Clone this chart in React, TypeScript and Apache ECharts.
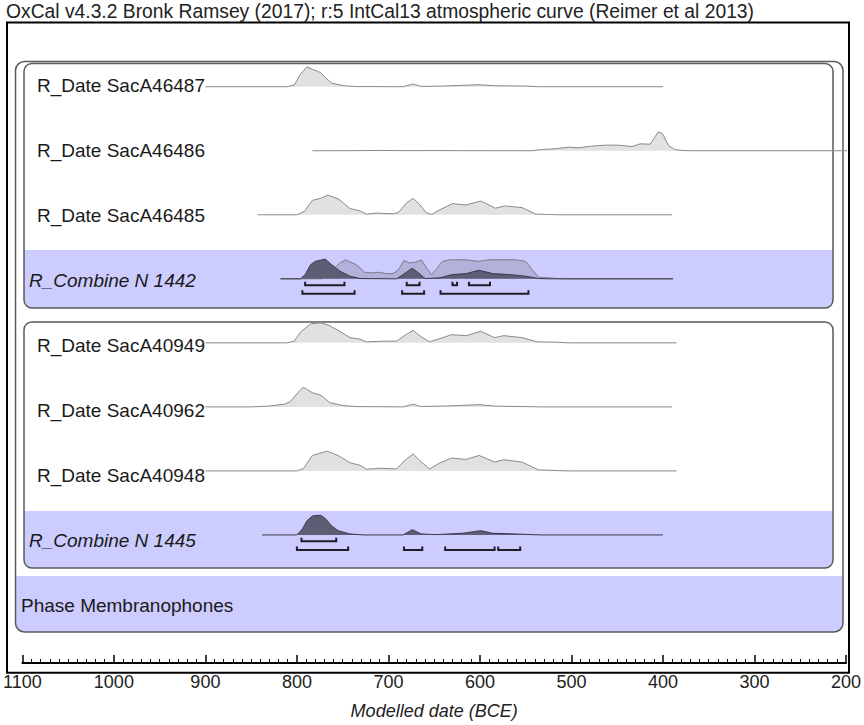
import React, { useEffect, useRef } from 'react';
import * as echarts from 'echarts';

// ---------- data ----------
const titleText = 'OxCal v4.3.2 Bronk Ramsey (2017); r:5 IntCal13 atmospheric curve (Reimer et al 2013)';
const axisTitle = 'Modelled date (BCE)';
const tickInterval = 100;
const dateMin = 200;
const dateMax = 1100;

const rowLabels = [
  'R_Date SacA46487',
  'R_Date SacA46486',
  'R_Date SacA46485',
  'R_Combine N 1442',
  'R_Date SacA40949',
  'R_Date SacA40962',
  'R_Date SacA40948',
  'R_Combine N 1445',
  'Phase Membranophones',
];
const rowKinds = ['date', 'date', 'date', 'combine', 'date', 'date', 'date', 'combine', 'phase'];

// relative probability densities (arbitrary units) against calendar year BCE
const sacA46487Years = [900, 811, 803, 796, 789, 783, 774, 769, 762, 749, 735, 684, 673, 664, 640, 601, 583, 550, 535, 400];
const sacA46487Prob = [0, 0, 1.7, 12.7, 20.3, 17.7, 14.3, 9.3, 3.7, 1, 0.2, 0, 2.7, 0.3, 0.7, 2, 1, 0.7, 0, 0];

const sacA46486Years = [783, 740, 710, 680, 650, 620, 543, 532, 518, 503, 492, 478, 463, 449, 434, 425, 414, 405, 400, 394, 387, 380, 369, 180];
const sacA46486Prob = [0, 0.1, 0.3, 0.1, 0.2, 0.1, 0, 1.3, 2, 3.7, 3, 4.7, 5.7, 5.7, 4.3, 7, 6.7, 19.3, 16.7, 5.3, 1.3, 0.3, 0, 0];

const sacA46485Years = [843, 800, 792, 783, 774, 766, 754, 742, 731, 724, 713, 695, 689, 680, 673, 666, 659, 653, 644, 630, 615, 599, 583, 573, 554, 539, 525, 514, 390];
const sacA46485Prob = [0, 0, 3.3, 14.7, 16.7, 20, 15.7, 6.3, 4, 0.7, 1.7, 1, 2.3, 12.3, 16.7, 10.7, 2.3, 0.3, 5, 11.3, 10, 14, 6.7, 9, 7.3, 0.7, 0.3, 0, 0];

const n1442LightYears = [818, 778, 773, 767, 760, 753, 747, 735, 726, 717, 711, 702, 695, 689, 683, 677, 671, 664, 659, 653, 648, 641, 633, 615, 601, 590, 561, 550, 543, 536, 525, 514, 507, 389];
const n1442LightProb = [0, 0, 0, 3, 10, 16, 19.3, 14.3, 6.7, 6, 6.7, 5.3, 5.3, 9.3, 18.7, 16, 16.7, 19.3, 12, 4.3, 9.3, 17.7, 19.3, 19.3, 17.7, 19.3, 19.3, 17.7, 9.3, 1.7, 1, 0.3, 0, 0];
const n1442Years = [818, 796, 791, 785, 780, 769, 762, 753, 742, 731, 691, 684, 674, 668, 660, 644, 630, 615, 601, 586, 568, 550, 536, 525, 389];
const n1442Prob = [0, 0, 4.3, 14.3, 17.7, 20, 14.3, 7.7, 2.7, 0.3, 0, 4.3, 10.7, 6.7, 0.3, 1, 4.3, 5.3, 8.7, 5.3, 4.3, 2.7, 0.3, 0, 0];

const sacA40949Years = [900, 811, 803, 796, 785, 774, 765, 755, 742, 731, 724, 706, 691, 682, 673, 664, 655, 644, 631, 615, 599, 584, 574, 554, 537, 518, 503, 385];
const sacA40949Prob = [0, 0, 1.7, 11, 19.3, 20.3, 17.7, 12.7, 5.3, 3.7, 1, 1.7, 1.7, 7.7, 12.7, 6, 1, 4.3, 8.3, 7.3, 11.7, 5.3, 7.3, 5.3, 1, 0.7, 0, 0];

const sacA40962Years = [900, 850, 832, 814, 807, 800, 793, 783, 774, 764, 749, 735, 684, 673, 664, 633, 601, 583, 550, 535, 390];
const sacA40962Prob = [0, 0, 0.7, 2.7, 5.3, 13.3, 20, 14.3, 12, 4.3, 1.3, 0.3, 0, 2.7, 0.3, 1, 2.3, 0.7, 0.3, 0, 0];

const sacA40948Years = [900, 800, 793, 783, 767, 755, 742, 731, 724, 709, 691, 682, 673, 666, 655, 644, 631, 615, 601, 584, 574, 554, 536, 514, 503, 385];
const sacA40948Prob = [0, 0, 2.3, 15.7, 20, 15.7, 8.3, 5.7, 1.7, 2.7, 2, 10.7, 17.3, 10.7, 2, 8, 13, 11.7, 15.7, 9, 11.3, 9, 1, 0.3, 0, 0];

const n1445Years = [838, 800, 794, 789, 783, 774, 769, 762, 755, 742, 727, 684, 674, 664, 648, 619, 599, 586, 561, 543, 532, 400];
const n1445Prob = [0, 0, 6, 14.3, 19.3, 20, 16.7, 9.3, 4.3, 1, 0, 0, 5.3, 1, 0.3, 1.7, 4.3, 1.7, 1, 0.3, 0, 0];

// highest posterior density ranges [from, to] (BCE)
const n1442Range68 = [[791, 748], [680, 666], [630, 625], [612, 589]];
const n1442Range95 = [[794, 737], [685, 661], [643, 547]];
const n1445Range68 = [[795, 757]];
const n1445Range95 = [[800, 744], [683, 663], [638, 584], [580, 556]];

// ---------- layout / style ----------
const W = 864;
const H = 725;
const Y_MIN = -1;
const Y_MAX = 9;
const GRID_TOP = 22.7;
const GRID_BOTTOM_PX = 672.7;
const ROW_PX = (GRID_BOTTOM_PX - GRID_TOP) / (Y_MAX - Y_MIN);
const DENSITY_TO_ROW = 1 / ROW_PX; // one density unit = one pixel of height
const RANGE_OFFSET_68 = 0.1;
const RANGE_OFFSET_95 = 0.235;
const FONT = '"Liberation Sans", Arial, Helvetica, sans-serif';
const BAND = '#ccccff';

type Dist = { row: number; years: number[]; prob: number[]; kind: 'date' | 'light' | 'dark'; clip?: boolean };
const distributions: Dist[] = [
  { row: 0, years: sacA46487Years, prob: sacA46487Prob, kind: 'date' },
  { row: 1, years: sacA46486Years, prob: sacA46486Prob, kind: 'date', clip: false },
  { row: 2, years: sacA46485Years, prob: sacA46485Prob, kind: 'date' },
  { row: 3, years: n1442LightYears, prob: n1442LightProb, kind: 'light' },
  { row: 3, years: n1442Years, prob: n1442Prob, kind: 'dark' },
  { row: 4, years: sacA40949Years, prob: sacA40949Prob, kind: 'date' },
  { row: 5, years: sacA40962Years, prob: sacA40962Prob, kind: 'date' },
  { row: 6, years: sacA40948Years, prob: sacA40948Prob, kind: 'date' },
  { row: 7, years: n1445Years, prob: n1445Prob, kind: 'dark' },
];

const rangeData: number[][] = [];
const addRanges = (ranges: number[][], row: number, off: number) =>
  ranges.forEach(([a, b]) => rangeData.push([a, b, row + off]));
addRanges(n1442Range68, 3, RANGE_OFFSET_68);
addRanges(n1442Range95, 3, RANGE_OFFSET_95);
addRanges(n1445Range68, 7, RANGE_OFFSET_68);
addRanges(n1445Range95, 7, RANGE_OFFSET_95);

const styleFor = (kind: string) => {
  if (kind === 'dark') return { line: '#3a3a48', fill: '#5d5d76' };
  if (kind === 'light') return { line: '#7a7a8a', fill: 'rgba(120,120,140,0.33)' };
  return { line: '#8a8a8a', fill: '#e1e1e1' };
};

const rowY = (r: number) => GRID_TOP + (r - Y_MIN) * ROW_PX;

function buildOption() {
  const series: any[] = distributions.map((d, i) => {
    const st = styleFor(d.kind);
    return {
      type: 'line',
      name: 'dist' + i,
      data: d.years.map((y, k) => [y, d.row - d.prob[k] * DENSITY_TO_ROW]),
      symbol: 'none',
      silent: true,
      clip: d.clip !== false,
      z: d.kind === 'dark' ? 4 : 3,
      lineStyle: { color: st.line, width: 1 },
      areaStyle: { color: st.fill, opacity: 1, origin: d.row },
    };
  });

  series.push({
    type: 'custom',
    name: 'ranges',
    silent: true,
    z: 5,
    data: rangeData,
    encode: { x: [0, 1], y: 2 },
    renderItem: (params: any, api: any) => {
      const s = api.coord([api.value(0), api.value(2)]);
      const e = api.coord([api.value(1), api.value(2)]);
      return {
        type: 'polyline',
        shape: { points: [[s[0], s[1] - 3.5], s, e, [e[0], e[1] - 3.5]] },
        style: { stroke: '#1e1e26', lineWidth: 2, fill: null },
      };
    },
  });

  const graphics: any[] = [];
  // outer frame
  graphics.push({
    type: 'rect', z: 1, silent: true,
    shape: { x: 7, y: 22.5, width: 842, height: GRID_BOTTOM_PX - 22.5 },
    style: { fill: null, stroke: '#000', lineWidth: 2 },
  });
  // phase box + band
  graphics.push({
    type: 'rect', z: 0, silent: true,
    shape: { x: 15.5, y: 576, width: 827.5, height: 56, r: [0, 0, 9, 9] },
    style: { fill: BAND },
  });
  graphics.push({
    type: 'rect', z: 1, silent: true,
    shape: { x: 15.5, y: 61.5, width: 827.5, height: 570.5, r: 9 },
    style: { fill: null, stroke: '#5a5a5a', lineWidth: 1.5 },
  });
  // sequence boxes + combine bands
  [[63.5, 308, 250], [322, 568, 511]].forEach(([top, bottom, bandTop]) => {
    graphics.push({
      type: 'rect', z: 0, silent: true,
      shape: { x: 24, y: bandTop, width: 809, height: bottom - bandTop, r: [0, 0, 8, 8] },
      style: { fill: BAND },
    });
    graphics.push({
      type: 'rect', z: 1, silent: true,
      shape: { x: 24, y: top, width: 809, height: bottom - top, r: 8 },
      style: { fill: null, stroke: '#5a5a5a', lineWidth: 1.5 },
    });
  });
  // title
  graphics.push({
    type: 'text', z: 10, silent: true, x: 6, y: 11,
    style: { text: titleText, fill: '#222', fontSize: 19.3, fontFamily: FONT, verticalAlign: 'middle', textVerticalAlign: 'middle' },
  });
  // row labels
  rowLabels.forEach((lab, r) => {
    const kind = rowKinds[r];
    const x = kind === 'combine' ? 29 : kind === 'phase' ? 21 : 37;
    graphics.push({
      type: 'text', z: 10, silent: true, x, y: rowY(r) - 2.5,
      style: {
        text: lab, fill: '#1a1a1a', fontSize: 19, fontFamily: FONT,
        fontStyle: kind === 'combine' ? 'italic' : 'normal',
        verticalAlign: 'middle', textVerticalAlign: 'middle',
      },
    });
  });

  return {
    animation: false,
    backgroundColor: '#fff',
    textStyle: { fontFamily: FONT },
    grid: { left: 20, right: W - 849, top: GRID_TOP, bottom: H - GRID_BOTTOM_PX, containLabel: false },
    xAxis: {
      type: 'value',
      min: dateMin,
      max: dateMax,
      interval: tickInterval,
      inverse: true,
      name: axisTitle,
      nameLocation: 'middle',
      nameGap: 39,
      nameTextStyle: { fontSize: 18, fontStyle: 'italic', color: '#222', fontFamily: FONT },
      axisLine: { show: true, onZero: false, lineStyle: { color: '#000', width: 2 } },
      axisTick: { show: true, inside: true, length: 8, lineStyle: { color: '#000', width: 1.5 } },
      minorTick: { show: true, splitNumber: 10, length: 4, lineStyle: { color: '#000', width: 1 } },
      splitLine: { show: false },
      axisLabel: {
        fontSize: 18, color: '#222', margin: 10, showMinLabel: true, showMaxLabel: true, fontFamily: FONT,
        formatter: (v: number) => String(v),
      },
    },
    yAxis: {
      type: 'value',
      min: Y_MIN,
      max: Y_MAX,
      inverse: true,
      show: false,
    },
    series,
    graphic: graphics,
  };
}

export default function App() {
  const ref = useRef<HTMLDivElement>(null);
  useEffect(() => {
    if (!ref.current) return;
    const chart = echarts.init(ref.current, null, { renderer: 'svg' });
    chart.setOption(buildOption() as any);
    return () => chart.dispose();
  }, []);
  return (
    <div
      ref={ref}
      style={{ position: 'fixed', left: 0, top: 0, width: W, height: H, background: '#fff' }}
    />
  );
}
